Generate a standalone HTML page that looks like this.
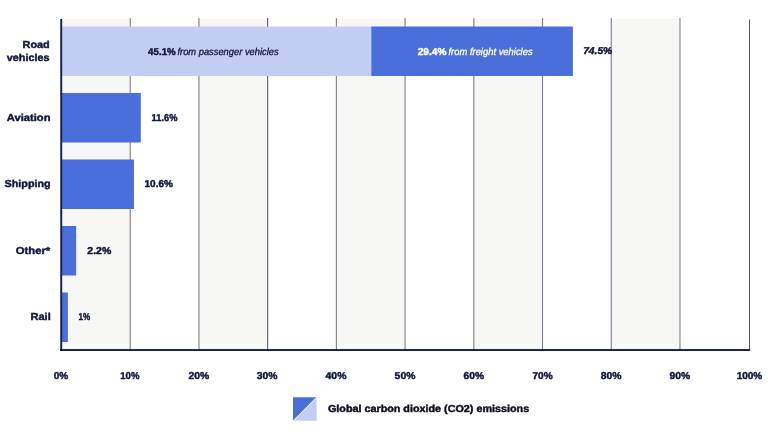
<!DOCTYPE html>
<html lang="en"><head><meta charset="utf-8"><title>Global carbon dioxide (CO2) emissions from transport</title>
<style>
html,body{margin:0;padding:0;background:#fff;}
body{width:768px;height:432px;overflow:hidden;font-family:"Liberation Sans",sans-serif;}
svg{display:block}
text{font-family:"Liberation Sans",sans-serif;text-rendering:geometricPrecision;}
.b{font-weight:700}
.i{font-style:italic;font-weight:400}
.bi{font-style:italic}
</style></head><body>
<svg width="768" height="432" viewBox="0 0 768 432">
<rect width="768" height="432" fill="#fff"/>

<rect x="61.50" y="19.0" width="68.72" height="331.0" fill="#f7f7f5"/>
<rect x="198.94" y="19.0" width="68.72" height="331.0" fill="#f7f7f5"/>
<rect x="336.38" y="19.0" width="68.72" height="331.0" fill="#f7f7f5"/>
<rect x="473.82" y="19.0" width="68.72" height="331.0" fill="#f7f7f5"/>
<rect x="611.26" y="19.0" width="68.72" height="331.0" fill="#f7f7f5"/>
<rect x="129.67" y="18.0" width="1.1" height="332.0" fill="#7d7e8e"/>
<rect x="198.39" y="18.0" width="1.1" height="332.0" fill="#7d7e8e"/>
<rect x="267.11" y="18.0" width="1.1" height="332.0" fill="#55587a"/>
<rect x="335.83" y="18.0" width="1.1" height="332.0" fill="#7d7e8e"/>
<rect x="404.55" y="18.0" width="1.1" height="332.0" fill="#7d7e8e"/>
<rect x="473.27" y="18.0" width="1.1" height="332.0" fill="#7d7e8e"/>
<rect x="541.99" y="18.0" width="1.1" height="332.0" fill="#7d7e8e"/>
<rect x="610.71" y="18.0" width="1.1" height="332.0" fill="#7d7e8e"/>
<rect x="679.43" y="18.0" width="1.1" height="332.0" fill="#7d7e8e"/>
<rect x="749.00" y="19.5" width="1.0" height="331.5" fill="#53556e"/>
<rect x="61.0" y="26.5" width="310.29" height="49.5" fill="#c3cef4"/>
<rect x="371.29" y="26.5" width="201.61" height="49.5" fill="#4a6fdb"/>
<rect x="61.0" y="93.0" width="79.81" height="49.5" fill="#4a6fdb"/>
<rect x="61.0" y="159.5" width="72.93" height="49.5" fill="#4a6fdb"/>
<rect x="61.0" y="226.0" width="15.14" height="49.5" fill="#4a6fdb"/>
<rect x="61.0" y="292.5" width="6.88" height="49.5" fill="#4a6fdb"/>
<rect x="60.25" y="19.0" width="1.95" height="332.0" fill="#181f56"/>
<rect x="60.0" y="349.1" width="690.1" height="1.85" fill="#10153f"/>
<text x="22.59" y="47.55" font-size="10.2" text-anchor="start" class="b" fill="#10153f" textLength="27.04" lengthAdjust="spacingAndGlyphs" stroke="#10153f" stroke-width="0.45" stroke-linejoin="round">Road</text>
<text x="6.77" y="60.75" font-size="10.2" text-anchor="start" class="b" fill="#10153f" textLength="42.80" lengthAdjust="spacingAndGlyphs" stroke="#10153f" stroke-width="0.45" stroke-linejoin="round">vehicles</text>
<text x="6.88" y="120.65" font-size="10.2" text-anchor="start" class="b" fill="#10153f" textLength="43.59" lengthAdjust="spacingAndGlyphs" stroke="#10153f" stroke-width="0.45" stroke-linejoin="round">Aviation</text>
<text x="4.60" y="186.75" font-size="10.2" text-anchor="start" class="b" fill="#10153f" textLength="45.99" lengthAdjust="spacingAndGlyphs" stroke="#10153f" stroke-width="0.45" stroke-linejoin="round">Shipping</text>
<text x="15.77" y="254.05" font-size="10.2" text-anchor="start" class="b" fill="#10153f" textLength="34.49" lengthAdjust="spacingAndGlyphs" stroke="#10153f" stroke-width="0.45" stroke-linejoin="round">Other*</text>
<text x="30.59" y="319.75" font-size="10.2" text-anchor="start" class="b" fill="#10153f" textLength="20.15" lengthAdjust="spacingAndGlyphs" stroke="#10153f" stroke-width="0.45" stroke-linejoin="round">Rail</text>
<text x="583.15" y="54.05" font-size="9.8" text-anchor="start" class="b bi" fill="#10153f" textLength="29.09" lengthAdjust="spacingAndGlyphs" stroke="#10153f" stroke-width="0.45" stroke-linejoin="round">74.5%</text>
<text x="151.61" y="120.65" font-size="10.0" text-anchor="start" class="b" fill="#10153f" textLength="25.82" lengthAdjust="spacingAndGlyphs" stroke="#10153f" stroke-width="0.45" stroke-linejoin="round">11.6%</text>
<text x="144.53" y="186.75" font-size="10.0" text-anchor="start" class="b" fill="#10153f" textLength="28.44" lengthAdjust="spacingAndGlyphs" stroke="#10153f" stroke-width="0.45" stroke-linejoin="round">10.6%</text>
<text x="87.30" y="253.85" font-size="10.0" text-anchor="start" class="b" fill="#10153f" textLength="23.92" lengthAdjust="spacingAndGlyphs" stroke="#10153f" stroke-width="0.45" stroke-linejoin="round">2.2%</text>
<text x="78.56" y="319.75" font-size="10.0" text-anchor="start" class="b" fill="#10153f" textLength="11.70" lengthAdjust="spacingAndGlyphs" stroke="#10153f" stroke-width="0.45" stroke-linejoin="round">1%</text>
<text x="148.08" y="54.55" font-size="10.0" text-anchor="start" class="b" fill="#10153f" textLength="27.68" lengthAdjust="spacingAndGlyphs" stroke="#10153f" stroke-width="0.45" stroke-linejoin="round">45.1%</text>
<text x="177.47" y="54.55" font-size="9.9" text-anchor="start" class="i" fill="#10153f" textLength="101.12" lengthAdjust="spacingAndGlyphs" stroke="#10153f" stroke-width="0.3" stroke-linejoin="round">from passenger vehicles</text>
<text x="417.71" y="54.55" font-size="10.0" text-anchor="start" class="b" fill="#ffffff" textLength="28.70" lengthAdjust="spacingAndGlyphs" stroke="#ffffff" stroke-width="0.45" stroke-linejoin="round">29.4%</text>
<text x="448.48" y="54.55" font-size="9.9" text-anchor="start" class="i" fill="#ffffff" textLength="84.15" lengthAdjust="spacingAndGlyphs" stroke="#ffffff" stroke-width="0.3" stroke-linejoin="round">from freight vehicles</text>
<text x="53.74" y="378.65" font-size="10.0" text-anchor="start" class="b" fill="#10153f" textLength="14.52" lengthAdjust="spacingAndGlyphs" stroke="#10153f" stroke-width="0.45" stroke-linejoin="round">0%</text>
<text x="120.27" y="378.65" font-size="10.0" text-anchor="start" class="b" fill="#10153f" textLength="19.16" lengthAdjust="spacingAndGlyphs" stroke="#10153f" stroke-width="0.45" stroke-linejoin="round">10%</text>
<text x="188.53" y="378.65" font-size="10.0" text-anchor="start" class="b" fill="#10153f" textLength="20.71" lengthAdjust="spacingAndGlyphs" stroke="#10153f" stroke-width="0.45" stroke-linejoin="round">20%</text>
<text x="256.76" y="378.65" font-size="10.0" text-anchor="start" class="b" fill="#10153f" textLength="20.68" lengthAdjust="spacingAndGlyphs" stroke="#10153f" stroke-width="0.45" stroke-linejoin="round">30%</text>
<text x="325.60" y="378.65" font-size="10.0" text-anchor="start" class="b" fill="#10153f" textLength="20.77" lengthAdjust="spacingAndGlyphs" stroke="#10153f" stroke-width="0.45" stroke-linejoin="round">40%</text>
<text x="394.64" y="378.65" font-size="10.0" text-anchor="start" class="b" fill="#10153f" textLength="20.71" lengthAdjust="spacingAndGlyphs" stroke="#10153f" stroke-width="0.45" stroke-linejoin="round">50%</text>
<text x="463.46" y="378.65" font-size="10.0" text-anchor="start" class="b" fill="#10153f" textLength="20.56" lengthAdjust="spacingAndGlyphs" stroke="#10153f" stroke-width="0.45" stroke-linejoin="round">60%</text>
<text x="532.41" y="378.65" font-size="10.0" text-anchor="start" class="b" fill="#10153f" textLength="20.19" lengthAdjust="spacingAndGlyphs" stroke="#10153f" stroke-width="0.45" stroke-linejoin="round">70%</text>
<text x="600.82" y="378.65" font-size="10.0" text-anchor="start" class="b" fill="#10153f" textLength="20.75" lengthAdjust="spacingAndGlyphs" stroke="#10153f" stroke-width="0.45" stroke-linejoin="round">80%</text>
<text x="669.58" y="378.65" font-size="10.0" text-anchor="start" class="b" fill="#10153f" textLength="20.60" lengthAdjust="spacingAndGlyphs" stroke="#10153f" stroke-width="0.45" stroke-linejoin="round">90%</text>
<text x="736.68" y="378.65" font-size="10.0" text-anchor="start" class="b" fill="#10153f" textLength="25.59" lengthAdjust="spacingAndGlyphs" stroke="#10153f" stroke-width="0.45" stroke-linejoin="round">100%</text>
<text x="327.93" y="411.80" font-size="10.1" text-anchor="start" class="b" fill="#0d0f1f" textLength="201.22" lengthAdjust="spacingAndGlyphs" stroke="#0d0f1f" stroke-width="0.45" stroke-linejoin="round">Global carbon dioxide (CO2) emissions</text>
<polygon points="293,397.3 316.2,397.3 293,420.5" fill="#4a6fdb"/>
<polygon points="316.7,397.8 316.7,420.7 293.8,420.7" fill="#c3cef4"/>
</svg>
</body></html>
